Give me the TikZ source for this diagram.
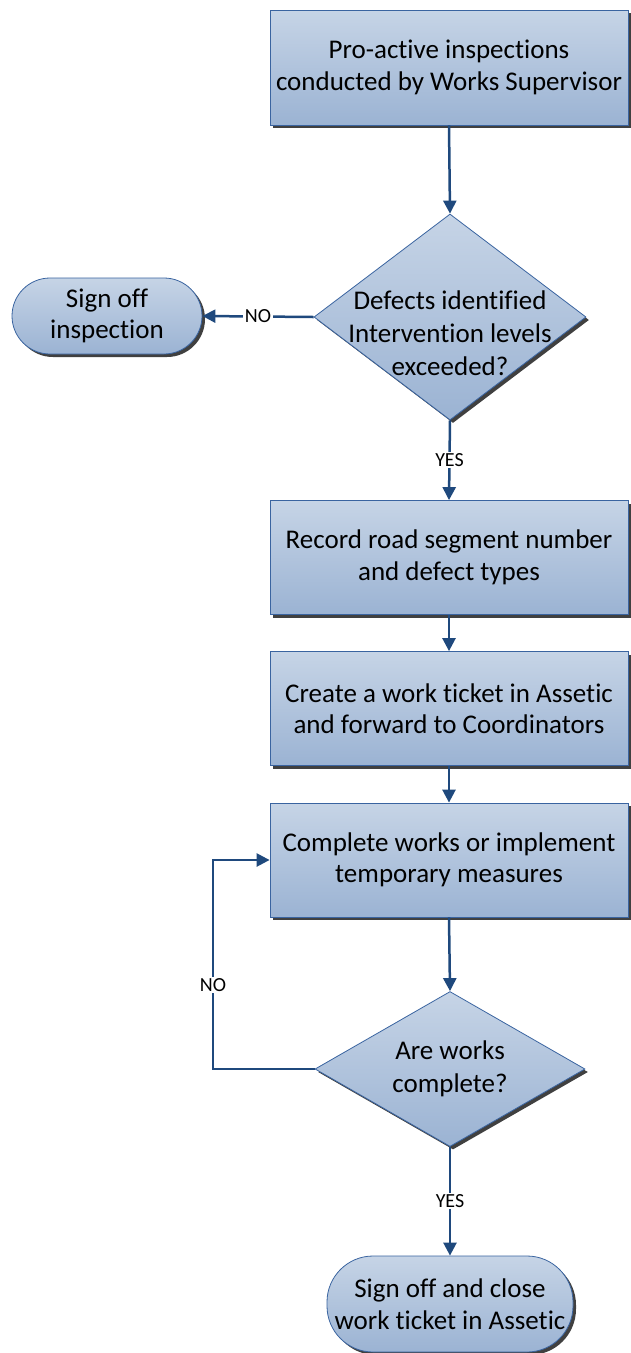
\documentclass[tikz,border=0pt]{standalone}
\usepackage{fontspec}
\setmainfont[RawFeature={-liga}]{Carlito}
\usetikzlibrary{shapes.geometric,shadows,arrows.meta}
\definecolor{arr}{HTML}{1F497D}
\definecolor{edgec}{HTML}{3A64A0}
\definecolor{ftop}{HTML}{C6D4E6}
\definecolor{fbot}{HTML}{9BB3D3}
\definecolor{shd}{HTML}{404040}
\tikzset{
  base/.style={draw=edgec, line width=0.8pt, top color=ftop, bottom color=fbot,
    drop shadow={shadow xshift=3pt,shadow yshift=-3pt,fill=shd,opacity=1},
    font=\fontsize{27}{31.5}\selectfont, align=center, inner sep=0pt},
  procbox/.style={base, rectangle, minimum width=358pt, minimum height=114pt},
  term/.style={base, rectangle},
  dia/.style={base, diamond},
  diatext/.style={font=\fontsize{27}{33}\selectfont, align=center, inner sep=0pt},
  conn/.style={draw=arr, line width=2.5pt, -{Triangle[length=13pt,width=13pt]}},
  lbl/.style={fill=white, font=\fontsize{20}{23}\selectfont, inner sep=1.5pt}
}
\begin{document}
\begin{tikzpicture}[x=1pt,y=-1pt]
\useasboundingbox (0,0) rectangle (630,1353);
\node[procbox, minimum height=115pt] (b1) at (449,67.5) {Pro-active inspections\\conducted by Works Supervisor};
\node[dia, minimum width=272pt, minimum height=206pt,
  label={[diatext, yshift=-16pt]center:Defects identified\\Intervention levels\\exceeded?}] (d1) at (450,317) {};
\node[term, minimum width=190pt, minimum height=76pt, rounded corners=38pt] (so) at (107,316) {Sign off\\inspection};
\node[procbox] (b2) at (449,557.5) {Record road segment number\\and defect types};
\node[procbox] (b3) at (449,708.5) {Create a work ticket in Assetic\\and forward to Coordinators};
\node[procbox] (b4) at (449,860) {Complete works or implement\\temporary measures};
\node[dia, minimum width=270pt, minimum height=155pt,
  label={[diatext]center:Are works\\complete?}] (d2) at (450,1069) {};
\node[term, minimum width=246pt, minimum height=96pt, rounded corners=46pt] (fin) at (450,1304) {Sign off and close\\work ticket in Assetic};
\coordinate (lp) at (213,1069);

\draw[conn] (b1.south) -- (d1.north);
\draw[conn] (d1.west) -- node[lbl]{NO} (so.east);
\draw[conn] (d1.south) -- node[lbl]{YES} (b2.north);
\draw[conn] (b2.south) -- (b3.north);
\draw[conn] (b3.south) -- (b4.north);
\draw[conn] (b4.south) -- (d2.north);
\draw[conn] (d2.west) -- (lp) |- node[lbl, pos=0.2]{NO} (b4.west);
\draw[conn] (d2.south) -- node[lbl]{YES} (fin.north);
\end{tikzpicture}
\end{document}
